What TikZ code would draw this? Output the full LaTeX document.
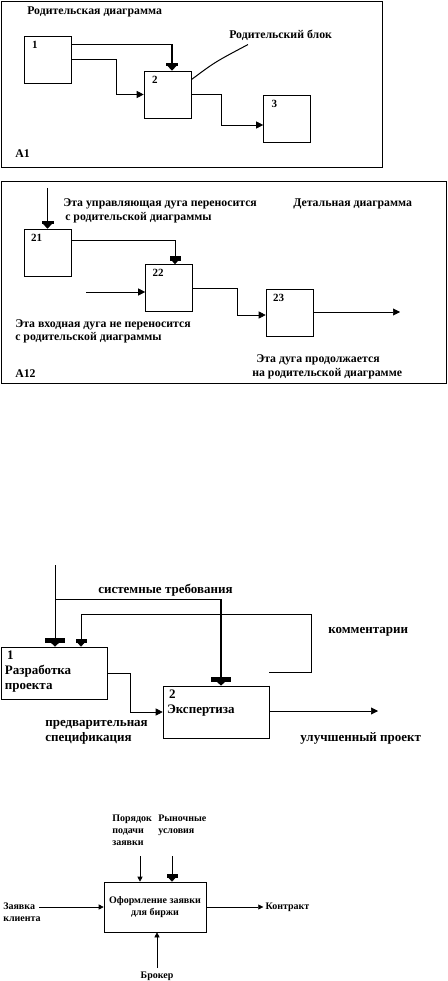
\documentclass[tikz,border=0pt]{standalone}
\usepackage{fontspec}
\setmainfont{Liberation Serif}
\usetikzlibrary{arrows.meta}
\begin{document}
\begin{tikzpicture}[x=1pt, y=-1pt, line width=0.6pt,
    txt/.style={font=\bfseries\fontsize{11.8}{13.5}\selectfont, inner sep=0pt, anchor=west},
    big/.style={font=\bfseries\fontsize{13}{15}\selectfont, inner sep=0pt, anchor=west},
    sml/.style={font=\bfseries\fontsize{10}{12}\selectfont, inner sep=0pt},
    blk/.style={draw, minimum width=47pt, minimum height=47pt, inner sep=0pt},
    num/.style={font=\bfseries\fontsize{11}{12}\selectfont, inner sep=0pt, anchor=north west},
    inp/.style={-{Triangle[length=7pt,width=7pt]}},
    ctl/.style={-{Rectangle[length=3pt,width=12pt] Triangle[length=5pt,width=9pt]}},
    ctlblk/.style={-{Rectangle[length=5pt,width=20pt] Triangle[length=4pt,width=8pt]}},
    ctlsm/.style={-{Rectangle[length=4pt,width=11pt] Triangle[length=4pt,width=7pt]}},
    tiny/.style={-{Triangle[length=5pt,width=5pt]}}]
    \useasboundingbox (0,0) rectangle (447,981);

    % Родительская диаграмма A1
    \draw (1,1) rectangle (382,167);
    \node[txt] (t1) at (27,12) {Родительская диаграмма};
    \node[blk, label={[num, xshift=8pt, yshift=-5pt]north west:1}] (a1) at (47.5,59.5) {};
    \node[blk, label={[num, xshift=8pt, yshift=-5pt]north west:2}] (a2) at (167.5,94.5) {};
    \node[blk, label={[num, xshift=8pt, yshift=-5pt]north west:3}] (a3) at (287,119) {};
    \node[txt] (pb) at (229,35) {Родительский блок};
    \node[txt] (A1) at (15,154) {A1};
    \draw[ctl, line width=1.4pt] ([yshift=-9pt]a1.north east) -| ([xshift=4.5pt]a2.north);
    \draw[inp] (a1.east) -- ++(45,0) |- (a2.west);
    \draw[inp] (a2.east) -- ++(30,0) |- ([yshift=-6pt]a3.west);
    \draw[line width=1pt] ([yshift=-9pt]a2.north east) .. controls (215,62) .. ([xshift=19pt,yshift=-4pt]pb.south west);

    % Детальная диаграмма A12
    \draw (1,181) rectangle (446,383);
    \node[blk, label={[num, xshift=7pt, yshift=-5pt]north west:21}] (b21) at (47.5,252.5) {};
    \node[blk, label={[num, xshift=7pt, yshift=-5pt]north west:22}] (b22) at (169,288) {};
    \node[blk, label={[num, xshift=7pt, yshift=-5pt]north west:23}] (b23) at (289.5,312.5) {};
    \coordinate (c21) at (47.5,188);
    \coordinate (i22) at (86,292);
    \coordinate (o23) at (400,312);
    \draw[ctl] (c21) -- (b21.north);
    \draw[ctlsm] ([yshift=-11.5pt]b21.north east) -| ([xshift=6pt]b22.north);
    \draw[inp] (i22) -- (i22 -| b22.west);
    \draw[inp] (b22.east) -- ++(44,0) |- ([yshift=-2.5pt]b23.west);
    \draw[inp] ([yshift=0.5pt]b23.east) -- (o23);
    \node[txt] (u1) at (63,204) {Эта управляющая дуга переносится};
    \node[txt] (u2) at (65,218) {с родительской диаграммы};
    \node[txt] (dd) at (293,204) {Детальная диаграмма};
    \node[txt] (v1) at (15,325) {Эта входная дуга не переносится};
    \node[txt] (v2) at (15,338) {с родительской диаграммы};
    \node[txt] (w1) at (256,360) {Эта дуга продолжается};
    \node[txt] (w2) at (252,374) {на родительской диаграмме};
    \node[txt] (A12) at (15,374) {A12};

    % Разработка и экспертиза проекта
    \node[draw, minimum width=106pt, minimum height=52pt, inner sep=0pt,
          label={[big, anchor=north west, align=left, xshift=4pt, yshift=-4pt]north west:{\,1\\Разработка\\проекта}}] (p1) at (54,673) {};
    \node[draw, minimum width=106pt, minimum height=52pt, inner sep=0pt,
          label={[big, anchor=north west, align=left, xshift=4pt, yshift=-4pt]north west:{\,2\\Экспертиза}}] (p2) at (216,712) {};
    \draw[line width=1.5pt] (p2.north east) -- (p2.south east);
    \coordinate (s0) at (55,565);
    \coordinate (s1) at (55,599);
    \coordinate (o2) at (378,711);
    \draw[ctlblk] (s0) -- ([xshift=1pt]p1.north);
    \draw (s1) -- ([xshift=5pt]p2.north |- s1);
    \draw[ctlblk, line width=1.6pt] ([xshift=5pt]p2.north |- s1) -- ([xshift=5pt]p2.north);
    \draw[ctlsm] ([yshift=13pt]p2.north east) -- ++(42,0) |- ([xshift=27pt]p1.north |- 0,614) -- ([xshift=27pt]p1.north);
    \draw[inp] (p1.east) -- ++(23,0) |- (p2.west);
    \draw[inp] ([yshift=1pt]p2.east) -- (o2);
    \node[big] (sr) at (98,590) {системные требования};
    \node[big] (km) at (328,632) {комментарии};
    \node[big, align=left] (ps) at (45,732) {предварительная\\спецификация};
    \node[big] (up) at (300,738) {улучшенный проект};

    % Оформление заявки для биржи
    \node[draw, minimum width=102pt, minimum height=50pt, inner sep=0pt, sml, align=center] (q) at (155,907)
        {Оформление заявки\\для биржи};
    \coordinate (k1) at (140,856);
    \coordinate (k2) at (172,856);
    \coordinate (z0) at (39,907);
    \coordinate (br) at (157,968);
    \draw[tiny] (k1) -- (k1 |- q.north);
    \draw[ctlsm] (k2) -- (k2 |- q.north);
    \draw[tiny] (z0) -- (q.west);
    \draw[tiny] (q.east) -- ++(57,0) node[sml, anchor=west, xshift=2pt] (kt) {Контракт};
    \draw[tiny] (br) -- (br |- q.south);
    \node[sml, anchor=north west, align=left] (pz) at (112,815) {Порядок\\подачи\\заявки};
    \node[sml, anchor=north west, align=left] (ru) at (158,815) {Рыночные\\условия};
    \node[sml, anchor=west, align=left] (zk) at (3,912) {Заявка\\клиента};
    \node[sml] (bk) at (157,976) {Брокер};
\end{tikzpicture}
\end{document}
